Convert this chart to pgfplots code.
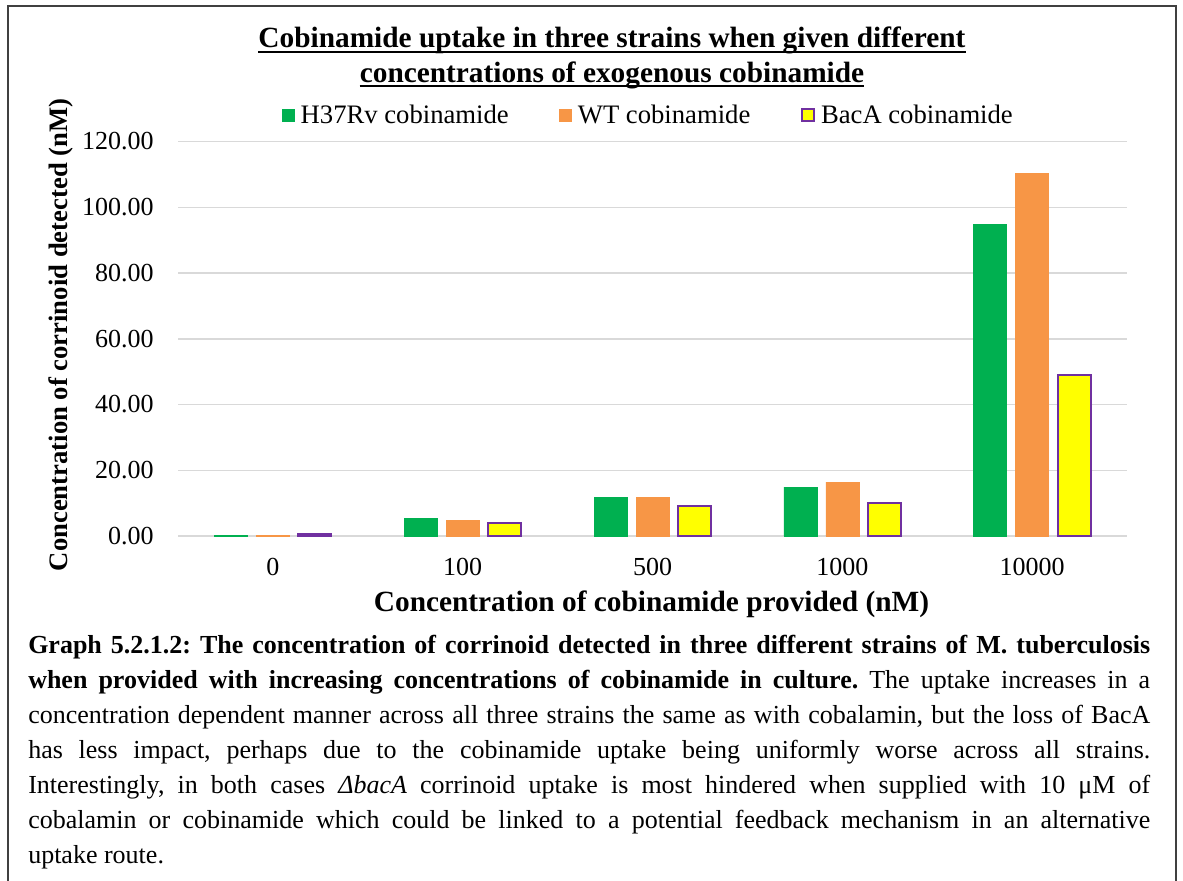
\documentclass[border=0pt]{standalone}
\usepackage{pgfplots}
\pgfplotsset{compat=1.18}
\usepackage{fontspec}
\setmainfont{Liberation Serif}
\frenchspacing
\definecolor{cgreen}{HTML}{00B050}
\definecolor{corange}{HTML}{F79646}
\definecolor{cyellow}{HTML}{FFFF00}
\definecolor{cpurple}{HTML}{7030A0}
\definecolor{cgrid}{HTML}{D9D9D9}
\definecolor{cframe}{HTML}{404040}
\begin{document}
\begin{tikzpicture}
\useasboundingbox (0,0) rectangle (887.25pt,-660.75pt);
\begin{axis}[
  at={(133.5pt,-402pt)}, anchor=south west,
  scale only axis, width=711.75pt, height=295.875pt,
  xmin=-0.5, xmax=4.5, ymin=0, ymax=120,
  ybar=6.75pt, bar width=24.75pt,
  xtick={0,1,2,3,4}, xticklabels={0,100,500,1000,10000},
  ytick={0,20,40,60,80,100,120},
  ymajorgrids, grid style={cgrid, line width=1.125pt},
  axis line style={draw=none}, tick style={draw=none}, major tick length=0pt,
  /pgf/number format/assume math mode=true,
  yticklabel style={/pgf/number format/.cd, fixed, fixed zerofill, precision=2, /tikz/.cd,
     font=\fontsize{19.5}{22}\selectfont, inner sep=0pt, xshift=-18pt},
  xticklabel style={font=\fontsize{19.5}{22}\selectfont, inner sep=0pt, yshift=-16.5pt},
  legend columns=3,
  legend style={at={(0.1096,1.067)}, anchor=west, draw=none, fill=none, inner sep=0pt,
     font=\fontsize{20}{22}\selectfont, nodes={inner sep=0pt},
     /tikz/every odd column/.append style={column sep=4.5pt},
     /tikz/every even column/.append style={column sep=38pt}},
  legend image code/.code={\draw[#1] (0pt,-4.5pt) rectangle (9pt,4.5pt);},
  clip=false,
]
\addplot[fill=cgreen, draw=cgreen, line width=0.3pt] coordinates {(0,0.2) (1,5.3) (2,11.7) (3,14.9) (4,94.9)};
\addlegendentry{H37Rv cobinamide}
\addplot[fill=corange, draw=corange, line width=0.3pt] coordinates {(0,0.2) (1,4.8) (2,11.8) (3,16.4) (4,110.4)};
\addlegendentry{WT cobinamide}
\addplot[fill=cyellow, draw=cpurple, line width=1.5pt] coordinates {(0,0.6) (1,4.0) (2,9.0) (3,10.1) (4,49.0)};
\addlegendentry{BacA cobinamide}
\end{axis}
\begin{scope}[x=0.75pt, y=-0.75pt]
\draw[cframe, line width=1.5pt] (8,881) -- (8,6) -- (1176,6) -- (1176,881);
\node[font=\fontsize{22}{27}\selectfont\bfseries, inner sep=0pt, anchor=base] (t1) at (612,48) {Cobinamide uptake in three strains when given different};
\draw[line width=1.5pt] ([yshift=-3pt]t1.base west) -- ([yshift=-3pt]t1.base east);
\node[font=\fontsize{22}{27}\selectfont\bfseries, inner sep=0pt, anchor=base] (t2) at (612,82.5) {concentrations of exogenous cobinamide};
\draw[line width=1.5pt] ([yshift=-3pt]t2.base west) -- ([yshift=-3pt]t2.base east);
\node[font=\fontsize{22}{26}\selectfont\bfseries, inner sep=0pt, anchor=base] at (651.5,611) {Concentration of cobinamide provided (nM)};
\node[font=\fontsize{20}{24}\selectfont\bfseries, inner sep=0pt, anchor=base, rotate=90] at (67,335) {Concentration of corrinoid detected (nM)};
\node[anchor=north west, inner sep=0pt, text width=841.5pt, align=justify,
      font=\fontsize{19.5}{26.25}\selectfont] at (28,635)
{\textbf{Graph 5.2.1.2: The concentration of corrinoid detected in three different strains of M. tuberculosis}\linebreak
\textbf{when provided with increasing concentrations of cobinamide in culture.} The uptake increases in a\linebreak
concentration dependent manner across all three strains the same as with cobalamin, but the loss of BacA\linebreak
has less impact, perhaps due to the cobinamide uptake being uniformly worse across all strains.\linebreak
Interestingly, in both cases \textit{ΔbacA} corrinoid uptake is most hindered when supplied with 10 μM of\linebreak
cobalamin or cobinamide which could be linked to a potential feedback mechanism in an alternative\linebreak
uptake route.\par};
\end{scope}
\end{tikzpicture}
\end{document}
